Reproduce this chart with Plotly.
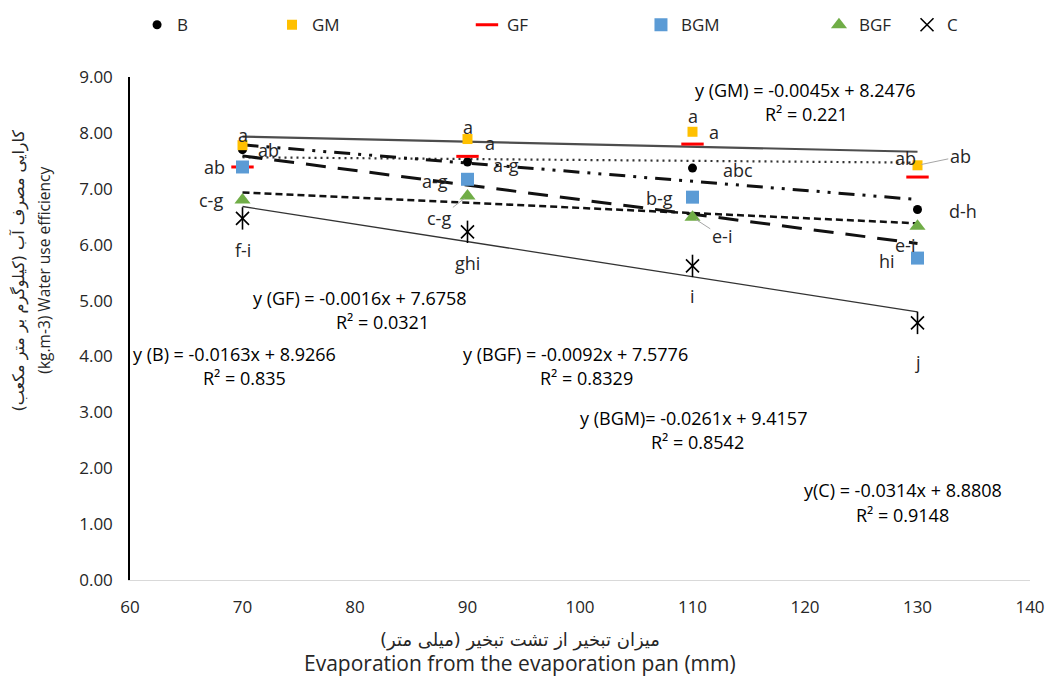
import numpy as np
import plotly.graph_objects as go

# Evaporation levels (mm) and water use efficiency (kg m-3) per treatment
evap = [70, 90, 110, 130]
B = [7.70, 7.48, 7.37, 6.63]
GM = [7.78, 7.89, 8.02, 7.42]
GF = [7.39, 7.58, 7.80, 7.21]
BGM = [7.39, 7.17, 6.85, 5.76]
BGF = [6.80, 6.87, 6.49, 6.33]
C = [6.47, 6.23, 5.62, 4.60]

# Linear trend coefficients (slope, intercept) and R² for each treatment
trend_names = ["GM", "GF", "B", "BGF", "BGM", "C"]
trend_slopes = [-0.0045, -0.0016, -0.0163, -0.0092, -0.0261, -0.0314]
trend_intercepts = [8.2476, 7.6758, 8.9266, 7.5776, 9.4157, 8.8808]
trend_r2 = ["0.221", "0.0321", "0.835", "0.8329", "0.8542", "0.9148"]
eq_labels = [
    "y (GM) = -0.0045x + 8.2476",
    "y (GF) = -0.0016x + 7.6758",
    "y (B) = -0.0163x + 8.9266",
    "y (BGF) = -0.0092x + 7.5776",
    "y (BGM)= -0.0261x + 9.4157",
    "y(C) = -0.0314x + 8.8808",
]
# where each equation sits (data coordinates)
eq_pos = [(120.0, 8.76), (80.4, 5.05), (69.3, 4.04), (99.6, 4.04), (110.1, 2.89), (128.7, 1.61)]
r2_pos = [(120.1, 8.33), (82.4, 4.62), (70.2, 3.61), (100.6, 3.61), (110.4, 2.47), (128.7, 1.16)]

# Mean-comparison letters (x, y, text)
letters = [
    (70, 7.97, "a"), (67.5, 7.39, "ab"), (72.3, 7.70, "ab"), (67.2, 6.80, "c-g"), (70, 5.90, "f-i"),
    (90, 8.10, "a"), (92.0, 7.82, "a"), (93.4, 7.42, "a-g"), (87.1, 7.14, "a-g"), (90, 5.67, "ghi"),
    (110, 8.31, "a"), (111.9, 8.01, "a"), (114.0, 7.33, "abc"), (107.1, 6.83, "b-g"), (110, 5.08, "i"),
    (128.9, 7.55, "ab"), (134.0, 6.60, "d-h"), (128.9, 6.00, "e-i"), (127.3, 5.71, "hi"), (130, 3.90, "j"),
]
# Letters joined to their marker by a leader line: (x, y, label_x, label_y, text)
leader_letters = [
    (90, 6.87, 87.5, 6.48, "c-g"),
    (110, 6.49, 112.6, 6.15, "e-i"),
    (130, 7.42, 133.8, 7.58, "ab"),
]

FONT = "'Open Sans', Lato, sans-serif"
FA_FONT = "'DejaVu Sans', sans-serif"
INK = "#262626"

fig = go.Figure()

# Trend lines
trend_styles = {
    "GM": dict(color="#4d4d4d", width=2.2, dash="solid"),
    "GF": dict(color="#333333", width=2.2, dash="2px,4px"),
    "B": dict(color="#111111", width=3, dash="16px,8px,3px,8px,3px,8px"),
    "BGF": dict(color="#111111", width=2.5, dash="7px,4px"),
    "BGM": dict(color="#111111", width=3, dash="20px,12px"),
    "C": dict(color="#333333", width=1.3, dash="solid"),
}
x_fit = np.array([min(evap), max(evap)])
for name, m, b in zip(trend_names, trend_slopes, trend_intercepts):
    fig.add_trace(go.Scatter(
        x=x_fit, y=m * x_fit + b, mode="lines", line=trend_styles[name],
        showlegend=False, hoverinfo="skip",
    ))

# Treatment markers, each with its own legend entry along the top
series = [
    ("B", B, dict(symbol="circle", size=9, color="black"), "legend"),
    ("GM", GM, dict(symbol="square", size=10, color="#FFC000"), "legend2"),
    ("GF", GF, dict(symbol="line-ew", size=16, color="#FF0000", line=dict(color="#FF0000", width=3)), "legend3"),
    ("BGM", BGM, dict(symbol="square", size=13, color="#5B9BD5"), "legend4"),
    ("BGF", BGF, dict(symbol="triangle-up", size=14, color="#70AD47"), "legend5"),
    ("C", C, dict(symbol="x-thin-open", size=13, color="black", line=dict(color="black", width=1.6)), "legend6"),
]
for name, vals, mk, lg in series:
    fig.add_trace(go.Scatter(x=evap, y=vals, mode="markers", name=name, marker=mk, legend=lg))
# vertical stroke completing the C asterisk
fig.add_trace(go.Scatter(
    x=evap, y=C, mode="markers", showlegend=False,
    marker=dict(symbol="line-ns-open", size=16, color="black", line=dict(color="black", width=1.6)),
))

annotations = []
for (ex, ey), (rx, ry), eq, r2 in zip(eq_pos, r2_pos, eq_labels, trend_r2):
    annotations.append(dict(x=ex, y=ey, text=eq, showarrow=False, font=dict(size=18, color="black", family=FONT)))
    annotations.append(dict(x=rx, y=ry, text="R² = " + r2, showarrow=False, font=dict(size=18, color="black", family=FONT)))

for lx, ly, t in letters:
    annotations.append(dict(x=lx, y=ly, text=t, showarrow=False, font=dict(size=18, color=INK, family=FONT)))
for px, py, lx, ly, t in leader_letters:
    annotations.append(dict(
        x=px, y=py, ax=lx, ay=ly, axref="x", ayref="y", text=t, showarrow=True,
        arrowhead=0, arrowwidth=1, arrowcolor="#a6a6a6", standoff=4,
        font=dict(size=18, color=INK, family=FONT),
    ))

# Axis titles (Persian line above the English one)
title_common = dict(xref="paper", yref="paper", showarrow=False, xanchor="center", yanchor="middle")
annotations += [
    dict(x=-0.123, y=0.616, textangle=-90,
         text="کارایی مصرف آب (کیلوگرم بر متر مکعب)\u200f", font=dict(size=16, color=INK, family=FA_FONT), **title_common),
    dict(x=-0.095, y=0.616, textangle=-90,
         text="(kg.m-3) Water use efficiency", font=dict(size=15.5, color=INK, family=FONT), **title_common),
    dict(x=0.433, y=-0.119,
         text="میزان تبخیر از تشت تبخیر (میلی متر)\u200f", font=dict(size=18, color=INK, family=FA_FONT), **title_common),
    dict(x=0.433, y=-0.165,
         text="Evaporation from the evaporation pan (mm)", font=dict(size=21, color=INK, family=FONT), **title_common),
]

# legend positions as fractions of the full page width
legend_x = {"legend": 0.1309, "legend2": 0.2598, "legend3": 0.4460,
            "legend4": 0.6122, "legend5": 0.7822, "legend6": 0.8663}
legend_layout = {}
for key, lx in legend_x.items():
    legend_layout[key] = dict(
        x=lx, y=0.963, xref="container", yref="container",
        xanchor="left", yanchor="middle", orientation="h",
        bgcolor="rgba(0,0,0,0)", font=dict(size=17, color=INK, family=FONT),
        itemwidth=30,
    )

fig.update_layout(
    width=1047, height=680,
    margin=dict(l=130, r=17, t=77, b=100, autoexpand=False),
    paper_bgcolor="white", plot_bgcolor="white",
    font=dict(family=FONT, color=INK),
    annotations=annotations,
    **legend_layout,
)
fig.update_xaxes(
    range=[60, 140], dtick=10, showgrid=False, zeroline=False,
    showline=True, linecolor="#d9d9d9", linewidth=1,
    ticks="", ticklabelstandoff=12, tickfont=dict(size=17, color=INK, family=FONT),
)
fig.update_yaxes(
    range=[0, 9], dtick=1, tickformat=".2f", showgrid=False, zeroline=False,
    showline=True, linecolor="black", linewidth=1.5,
    ticks="", ticklabelstandoff=12, tickfont=dict(size=17, color=INK, family=FONT),
)

fig.write_html("out.html")
